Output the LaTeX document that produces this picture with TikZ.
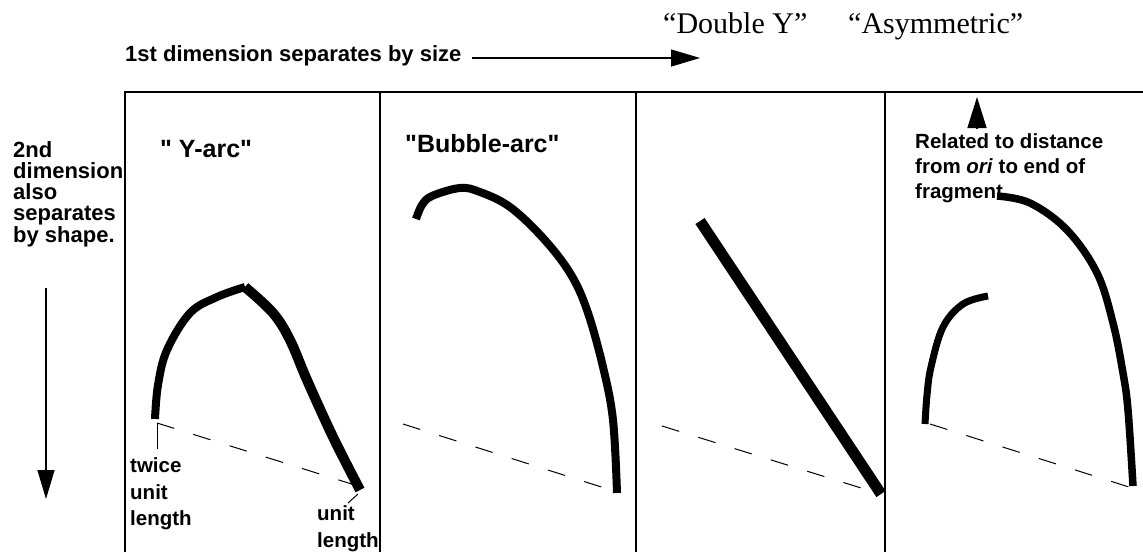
\documentclass[tikz,border=0pt]{standalone}
\usepackage{fontspec}
\setmainfont{Liberation Serif}
\newfontfamily\hv{Liberation Sans}
\usetikzlibrary{arrows.meta}
\begin{document}
\begin{tikzpicture}[x=1pt,y=-1pt,
  lbl/.style={anchor=base west,inner sep=0pt,font=\hv\bfseries\fontsize{20.5}{24}\selectfont},
  big/.style={anchor=base west,inner sep=0pt,font=\hv\bfseries\fontsize{22}{24}\selectfont},
  ttl/.style={anchor=base west,inner sep=0pt,font=\hv\bfseries\fontsize{25}{28}\selectfont},
  srf/.style={anchor=base west,inner sep=0pt,font=\fontsize{30}{32}\selectfont},
  frame/.style={line width=1.5pt},
  frag/.style={line width=8pt,line cap=butt,line join=round},
  chord/.style={line width=1pt,dash pattern=on 18pt off 20pt},
  lead/.style={line width=1pt},
  axis/.style={line width=1.2pt,-{Triangle[length=29pt,width=17pt]}}]
\useasboundingbox (0,0) rectangle (1143,552);
% titles
\node[srf] (dy) at (663,33) {“Double Y”};
\node[srf] (as) at (848,33) {“Asymmetric”};
\node[big] (d1) at (125,61) {1st dimension separates by size};
\coordinate (a1s) at (472,58);
\coordinate (a1e) at (700,58);
\draw[axis] (a1s) -- (a1e);
% left labels
\node[big] (l1) at (13,157) {2nd};
\node[big] (l2) at (13,178) {dimension};
\node[big] (l3) at (13,199) {also};
\node[big] (l4) at (13,220) {separates};
\node[big] (l5) at (13,242) {by shape.};
\coordinate (a2s) at (46,288);
\coordinate (a2e) at (46,499);
\draw[axis] (a2s) -- (a2e);
% frame
\coordinate (f0) at (125,552);
\coordinate (f0t) at (125,92);
\coordinate (fr) at (1143,92);
\draw[frame] (f0) -- (f0t) -- (fr);
\coordinate (v1t) at (380,92); \coordinate (v1b) at (380,552);
\coordinate (v2t) at (636,92); \coordinate (v2b) at (636,552);
\coordinate (v3t) at (885,92); \coordinate (v3b) at (885,552);
\draw[frame] (v1t) -- (v1b);
\draw[frame] (v2t) -- (v2b);
\draw[frame] (v3t) -- (v3b);
% panel 1: Y-arc
\node[ttl] (t1) at (160,157) {" Y-arc"};
\draw[frag] plot[smooth,tension=0.6] coordinates {(155,419) (158,385) (167,350) (190,313) (217,297) (245,287)};
\draw[frag,line width=10pt] plot[smooth,tension=0.6] coordinates {(245,287) (273,313) (290,340) (307,380) (333,437) (360,490)};
\draw[chord] (157,423) -- (358,486);
\draw[lead] (157,423) -- (157,449);
\draw[lead] (358,494) -- (348,503);
\node[lbl] (tw1) at (130,472) {twice};
\node[lbl] (tw2) at (130,499) {unit};
\node[lbl] (tw3) at (130,525) {length};
\node[lbl] (u1) at (317,520) {unit};
\node[lbl] (u2) at (317,547) {length};
% panel 2: Bubble-arc
\node[ttl] (t2) at (405,152) {"Bubble-arc"};
\draw[frag] plot[smooth,tension=0.6] coordinates {(416,219) (422,205) (432,196) (460,188) (480,192) (510,207) (543,238) (570,273) (587,310) (603,367) (613,420) (617,493)};
\draw[chord] (403,424) -- (614,491);
% panel 3: Double Y
\coordinate (s0) at (700,221);
\coordinate (s1) at (881,494);
\draw[frag,line width=11pt] (s0) -- (s1);
\draw[chord] (662,426) -- (874,492);
% panel 4: Asymmetric
\draw[frag,line width=7pt] plot[smooth,tension=0.6] coordinates {(925,424) (927,395) (931,367) (943,327) (963,304) (988,296)};
\draw[frag,line width=7.5pt] plot[smooth,tension=0.6] coordinates {(997,196) (1030,203) (1067,230) (1097,273) (1113,323) (1123,373) (1128,410) (1133,486)};
\draw[chord] (930,424) -- (1129,487);
\coordinate (ua0) at (977,128);
\coordinate (ua1) at (977,97);
\draw[line width=1.5pt,-{Triangle[length=31pt,width=19pt]}] (ua0) -- (ua1);
\node[lbl] (r1) at (915,148) {Related to distance};
\node[lbl] (r2) at (915,173) {from \textit{ori} to end of};
\node[lbl] (r3) at (915,198) {fragment};
\end{tikzpicture}
\end{document}
